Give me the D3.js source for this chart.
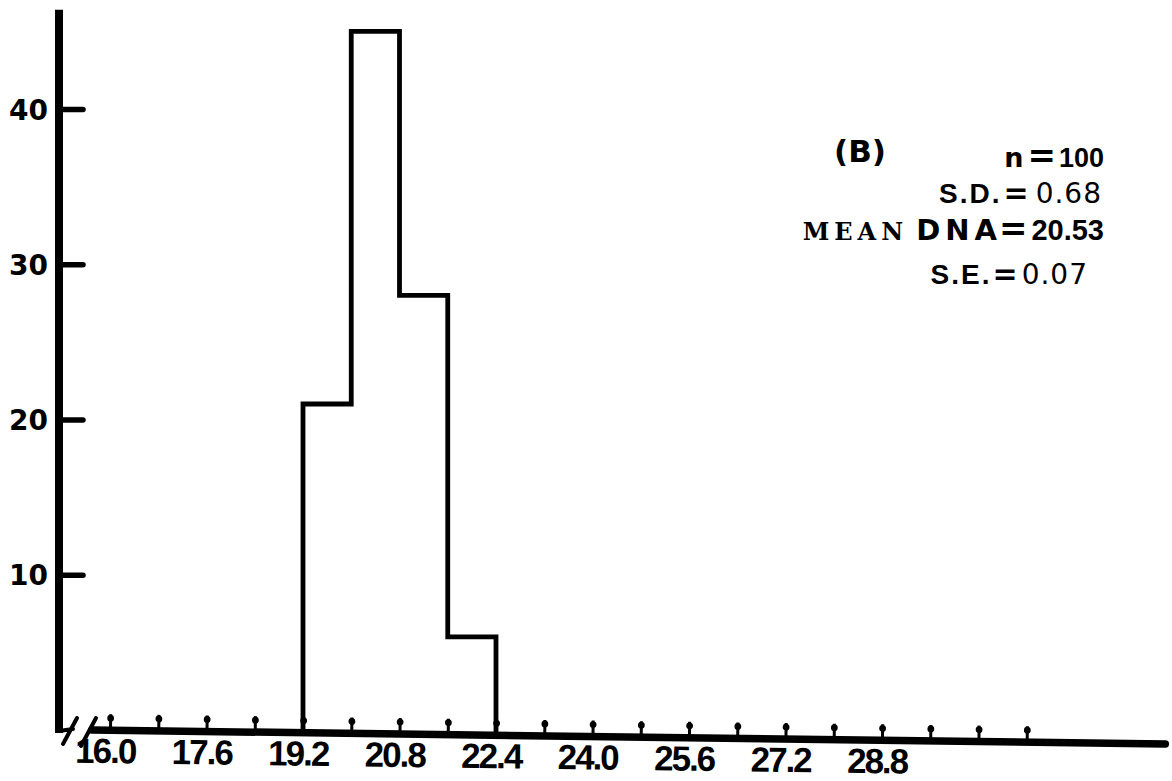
<!DOCTYPE html>
<html>
<head>
<meta charset="utf-8">
<script src="https://cdn.jsdelivr.net/npm/d3@7"></script>
<style>
  body { margin: 0; background: #fff; }
  svg { display: block; }
</style>
</head>
<body>
<script>
var width = 1172, height = 781;

// histogram (B): bin edges and counts, n = 100
var binEdges = [19.2, 20.0, 20.8, 21.6, 22.4];
var binCounts = [21, 45, 28, 6];

// axis ticks
var yTicks = [10, 20, 30, 40];
var xTicks = [16.0, 16.8, 17.6, 18.4, 19.2, 20.0, 20.8, 21.6, 22.4, 23.2,
              24.0, 24.8, 25.6, 26.4, 27.2, 28.0, 28.8, 29.6, 30.4, 31.2];
var xLabels = [16.0, 17.6, 19.2, 20.8, 22.4, 24.0, 25.6, 27.2, 28.8];

var svg = d3.select('body').append('svg').attr('width', width).attr('height', height);

var x = d3.scaleLinear().domain([16.0, 22.4]).range([110, 496]);
var y = d3.scaleLinear().domain([0, 40]).range([730, 109]);
var yTop = 46.4, xStart = 15.7, xEnd = 33.5;

var ax = 59, y0 = y(0), x0 = x(xStart);
var tilt = 0.75; // the printed x axis runs slightly downhill

// y axis line
svg.append('line')
    .attr('x1', ax).attr('x2', ax)
    .attr('y1', y(yTop)).attr('y2', y0 + 3)
    .attr('stroke', '#000').attr('stroke-width', 8);

// y tick stubs (pointing right)
var yTickG = svg.append('g').attr('transform', 'translate(' + ax + ',0)')
    .call(d3.axisRight(y).tickValues(yTicks).tickSize(24).tickFormat(''));
yTickG.select('.domain').remove();
yTickG.selectAll('.tick line').attr('stroke', '#000').attr('stroke-width', 5.5).attr('stroke-linecap', 'round');

// y labels
var yLab = svg.append('g').attr('transform', 'translate(' + (ax - 3) + ',0)')
    .call(d3.axisLeft(y).tickValues(yTicks).tickSize(0).tickPadding(8));
yLab.select('.domain').remove();
yLab.selectAll('text')
    .attr('font-family', 'DejaVu Sans, sans-serif')
    .attr('font-weight', 'bold')
    .attr('font-size', 28)
    .attr('fill', '#000')
    .attr('dy', '0.36em');

// axis break marks at the origin
svg.append('path')
    .attr('d', 'M' + ax + ',' + (y0 + 1) + 'L' + (ax + 14) + ',' + (y0 - 1) +
               'M' + (ax + 4) + ',' + (y0 + 14) + 'L' + (ax + 18) + ',' + (y0 - 12) +
               'M' + (ax + 22) + ',' + (y0 + 16) + 'L' + (ax + 37) + ',' + (y0 - 12))
    .attr('fill', 'none').attr('stroke', '#000').attr('stroke-width', 4).attr('stroke-linecap', 'round');

// x axis (tilted group)
var xg = svg.append('g').attr('transform', 'rotate(' + tilt + ',' + x0 + ',' + y0 + ')');

xg.append('line')
    .attr('x1', x0).attr('x2', x(xEnd))
    .attr('y1', y0).attr('y2', y0)
    .attr('stroke', '#000').attr('stroke-width', 7.5).attr('stroke-linecap', 'round');

var xTickG = xg.append('g').attr('transform', 'translate(0,' + y0 + ')')
    .call(d3.axisTop(x).tickValues(xTicks).tickSize(16).tickFormat(''));
xTickG.select('.domain').remove();
xTickG.selectAll('.tick line').attr('stroke', '#000').attr('stroke-width', 3);
xTickG.selectAll('.tick').append('circle')
    .attr('cy', -12).attr('r', 3.4).attr('fill', '#000');

var xLab = xg.append('g').attr('transform', 'translate(-5,' + y0 + ')')
    .call(d3.axisBottom(x).tickValues(xLabels).tickSize(0).tickPadding(8).tickFormat(d3.format('.1f')));
xLab.select('.domain').remove();
xLab.selectAll('text')
    .attr('font-family', 'Liberation Sans Narrow, Liberation Sans, Arial, sans-serif')
    .attr('font-weight', 'bold')
    .attr('font-size', 35)
    .attr('letter-spacing', -2)
    .attr('fill', '#000');

// histogram outline
var pts = [[binEdges[0], 0]];
binCounts.forEach(function (c, i) {
    pts.push([binEdges[i], c]);
    pts.push([binEdges[i + 1], c]);
});
pts.push([binEdges[binEdges.length - 1], 0]);

var outline = d3.line().x(d => x(d[0])).y(d => y(d[1]));
svg.append('path')
    .datum(pts)
    .attr('d', outline)
    .attr('fill', 'none')
    .attr('stroke', '#000')
    .attr('stroke-width', 4.8)
    .attr('stroke-linecap', 'square')
    .attr('stroke-linejoin', 'miter');

// annotation block
var sans = 'DejaVu Sans, sans-serif',
    arial = 'Liberation Sans, Arial, sans-serif';

svg.append('text').attr('x', 834).attr('y', 162)
    .attr('font-family', sans).attr('font-weight', 'bold').attr('font-size', 31)
    .text('(B)');

var t1 = svg.append('text').attr('x', 1104).attr('y', 167).attr('text-anchor', 'end')
    .attr('font-family', arial).attr('font-weight', 'bold').attr('font-size', 27);
t1.append('tspan').attr('font-family', sans).text('n');
t1.append('tspan').attr('font-family', sans).attr('font-size', 34).attr('dx', 4).text('=');
t1.append('tspan').attr('dx', 3).text('100');

var t2 = svg.append('text').attr('x', 1102).attr('y', 203).attr('text-anchor', 'end')
    .attr('font-family', sans).attr('font-size', 28);
t2.append('tspan').attr('font-family', arial).attr('font-weight', 'bold').attr('font-size', 28)
    .attr('letter-spacing', 2).text('S.D.');
t2.append('tspan').attr('font-weight', 'bold').attr('font-size', 30).attr('dx', 2).text('=');
t2.append('tspan').attr('dx', 7).attr('letter-spacing', 1).text('0.68');

var t3 = svg.append('text').attr('x', 1104).attr('y', 240).attr('text-anchor', 'end')
    .attr('font-family', sans).attr('font-weight', 'bold').attr('font-size', 29);
t3.append('tspan').attr('font-family', 'DejaVu Serif, serif').attr('font-size', 24)
    .attr('letter-spacing', 5).text('MEAN');
t3.append('tspan').attr('dx', 8).attr('letter-spacing', 5).text('DNA');
t3.append('tspan').attr('font-size', 34).attr('dx', -3).text('=');
t3.append('tspan').attr('font-family', arial).attr('font-size', 29).attr('dx', 4).text('20.53');

var t4 = svg.append('text').attr('x', 1088).attr('y', 284).attr('text-anchor', 'end')
    .attr('font-family', sans).attr('font-size', 28);
t4.append('tspan').attr('font-family', arial).attr('font-weight', 'bold').attr('font-size', 28)
    .attr('letter-spacing', 2).text('S.E.');
t4.append('tspan').attr('font-weight', 'bold').attr('font-size', 30).attr('dx', 1).text('=');
t4.append('tspan').attr('dx', 4).attr('letter-spacing', 1).text('0.07');
</script>
</body>
</html>
